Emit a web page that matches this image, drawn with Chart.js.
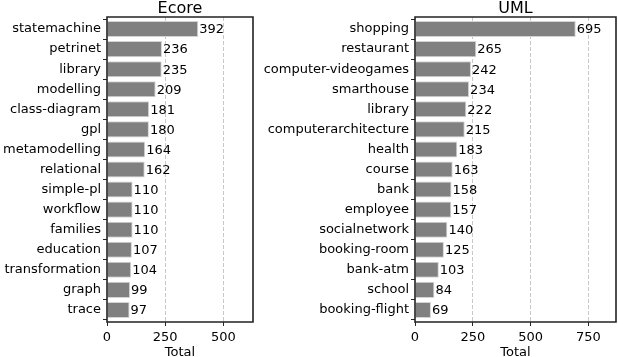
<!DOCTYPE html>
<html><head><meta charset="utf-8">
<script src="https://cdn.jsdelivr.net/npm/chart.js@4/dist/chart.umd.min.js"></script>
<style>
html,body{margin:0;padding:0;background:#fff;}
#w{position:relative;width:618px;height:357px;}
#c1{position:absolute;left:0;top:0;}
#c2{position:absolute;left:260px;top:0;}
</style></head><body>
<div id="w"><canvas id="c1" width="260" height="357"></canvas><canvas id="c2" width="358" height="357"></canvas></div>
<script>
const ecoreLabels = ["statemachine","petrinet","library","modelling","class-diagram","gpl","metamodelling","relational","simple-pl","workflow","families","education","transformation","graph","trace"];
const ecoreValues = [392,236,235,209,181,180,164,162,110,110,110,107,104,99,97];
const ecoreTicks = [0,250,500];
const umlLabels = ["shopping","restaurant","computer-videogames","smarthouse","library","computerarchitecture","health","course","bank","employee","socialnetwork","booking-room","bank-atm","school","booking-flight"];
const umlValues = [695,265,242,234,222,215,183,163,158,157,140,125,103,84,69];
const umlTicks = [0,250,500,750];

const FONT = "'DejaVu Sans', sans-serif";
Chart.defaults.font.family = FONT;
Chart.defaults.color = '#000';

const overlayPlugin = {
  id:'overlay',
  afterDatasetsDraw(chart){
    const ctx = chart.ctx, meta = chart.getDatasetMeta(0), ds = chart.data.datasets[0];
    ctx.save(); ctx.font = '13px '+FONT; ctx.fillStyle='#000'; ctx.textBaseline='middle'; ctx.textAlign='left';
    meta.data.forEach((el,i)=>{ ctx.fillText(String(ds.data[i].x), el.x+1, el.y+1); });
    ctx.restore();
  },
  afterDraw(chart){
    const a = chart.chartArea, ctx = chart.ctx;
    const l = Math.round(a.left), t = Math.round(a.top), r = Math.round(a.right), b = Math.round(a.bottom);
    ctx.save();
    ctx.setLineDash([]);
    ctx.strokeStyle = '#222222';
    ctx.lineWidth = 1.6;
    ctx.beginPath();
    ctx.moveTo(l,t); ctx.lineTo(r,t); ctx.lineTo(r,b); ctx.lineTo(l,b); ctx.closePath();
    ctx.stroke();
    ctx.font = '16px '+FONT; ctx.fillStyle='#000'; ctx.textAlign='center'; ctx.textBaseline='alphabetic';
    ctx.fillText(chart.options.plugins.overlay.title, (a.left+a.right)/2, 13);
    ctx.restore();
  }
};

function make(id, title, labels, values, ticks, xmax, yWidth, padRight){
  const data = values.map((v,i)=>({x:v, y:i}));
  return new Chart(document.getElementById(id), {
    type:'bar',
    data:{datasets:[{data, backgroundColor:'#808080', borderColor:'#d4d4d4', borderWidth:1, barPercentage:0.8, categoryPercentage:1}]},
    options:{
      indexAxis:'y', responsive:false, animation:false,
      layout:{padding:{left:0,right:padRight,top:17,bottom:0}},
      plugins:{legend:{display:false}, tooltip:{enabled:false}, title:{display:false}, overlay:{title}},
      scales:{
        x:{type:'linear', min:0, max:xmax, z:1,
          afterBuildTicks(s){ s.ticks = ticks.map(v=>({value:v})); },
          afterFit(s){ s.height = 35; },
          grid:{color:(c)=> c.tick && c.tick.value===0 ? 'rgba(0,0,0,0)' : '#c8c8c8', lineWidth:1,
            tickLength:4, tickColor:'#262626', tickBorderDash:[], drawTicks:true},
          border:{display:false, dash:[4,2]},
          ticks:{font:{size:13}, color:'#000', padding:4, maxRotation:0},
          title:{display:true, text:'Total', font:{size:13}, color:'#000', padding:{top:0,bottom:-3}}
        },
        y:{type:'linear', min:-0.6, max:14.6, reverse:true, offset:false,
          afterBuildTicks(s){ s.ticks = labels.map((_,i)=>({value:i})); },
          afterFit(s){ s.width = yWidth; },
          grid:{drawOnChartArea:false, tickLength:4, tickColor:'#262626', drawTicks:true},
          border:{display:false},
          ticks:{font:{size:13}, color:'#000', padding:2, callback:(v)=>labels[v] ?? ''}
        }
      }
    },
    plugins:[overlayPlugin]
  });
}
make('c1','Ecore',ecoreLabels,ecoreValues,ecoreTicks,627,107,7);
make('c2','UML',umlLabels,umlValues,umlTicks,869,155,2);
</script></body></html>
